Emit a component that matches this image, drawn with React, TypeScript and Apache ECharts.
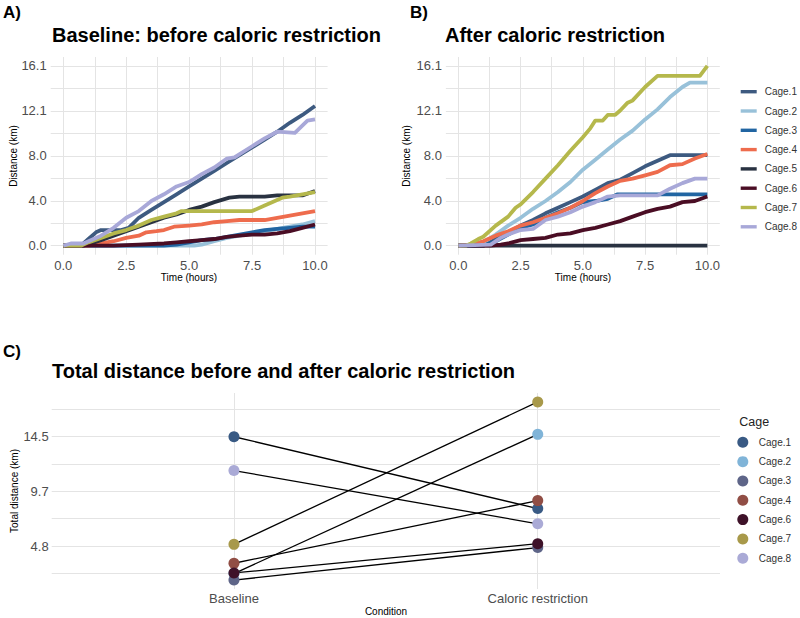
import React, { useEffect, useRef } from "react";
import * as echarts from "echarts";

const FONT = "'Liberation Sans', Arial, Helvetica, sans-serif";

const cageNames = ["Cage.1", "Cage.2", "Cage.3", "Cage.4", "Cage.5", "Cage.6", "Cage.7", "Cage.8"];
const lineColors = ["#3D5A80", "#98C1D9", "#2165A2", "#EE6C4D", "#293241", "#4A0D24", "#B5B84C", "#A8A8D8"];

// Panel A: baseline cumulative distance (hours, km)
const baseCage1 = [[0, 0], [0.7, 0], [1, 0.6], [1.3, 1.2], [1.5, 1.4], [2.3, 1.4], [2.6, 1.6], [3, 2.5], [3.5, 3.2], [4, 3.9], [4.5, 4.6], [5, 5.3], [5.5, 6.0], [6, 6.7], [6.5, 7.4], [7, 8.1], [7.5, 8.8], [8, 9.5], [8.5, 10.2], [9, 11.0], [9.5, 11.7], [10, 12.5]];
const baseCage2 = [[0, 0], [5.2, 0], [5.5, 0.1], [6, 0.4], [6.5, 0.7], [7, 0.9], [7.5, 1.1], [8, 1.3], [8.5, 1.5], [9, 1.7], [9.5, 1.9], [10, 2.2]];
const baseCage3 = [[0, 0], [4, 0], [4.5, 0.1], [5, 0.3], [5.5, 0.5], [6, 0.6], [6.5, 0.8], [7, 1.0], [7.5, 1.2], [8, 1.4], [8.5, 1.5], [9, 1.6], [9.5, 1.7], [10, 1.7]];
const baseCage4 = [[0, 0], [1, 0], [1.5, 0.2], [2, 0.4], [2.5, 0.7], [3, 0.9], [3.3, 1.2], [3.7, 1.3], [4, 1.4], [4.4, 1.7], [5, 1.8], [5.5, 1.9], [6, 2.1], [6.5, 2.2], [7, 2.3], [8, 2.3], [8.5, 2.5], [9, 2.7], [9.5, 2.9], [10, 3.1]];
const baseCage5 = [[0, 0], [0.8, 0], [1.5, 0.5], [2, 0.9], [2.5, 1.3], [3, 1.7], [3.5, 2.1], [4, 2.5], [4.5, 2.8], [5, 3.2], [5.5, 3.5], [6, 3.9], [6.6, 4.3], [7, 4.4], [8, 4.4], [8.5, 4.5], [9.5, 4.5], [10, 4.9]];
const baseCage6 = [[0, 0], [2, 0], [3, 0.1], [4, 0.2], [4.5, 0.3], [5, 0.4], [5.5, 0.5], [6, 0.6], [6.5, 0.8], [7, 0.9], [7.5, 1.0], [8, 1.0], [8.5, 1.1], [9, 1.3], [9.5, 1.6], [10, 1.9]];
const baseCage7 = [[0, 0], [0.7, 0], [1, 0.3], [1.5, 0.7], [2, 1.1], [2.5, 1.4], [3, 1.8], [3.5, 2.3], [4, 2.6], [4.5, 2.9], [4.7, 3.1], [7.5, 3.1], [8, 3.6], [8.7, 4.3], [9, 4.4], [9.5, 4.6], [10, 4.8]];
const baseCage8 = [[0, 0], [0.3, 0.2], [0.8, 0.2], [1.5, 0.9], [2, 1.6], [2.5, 2.5], [3, 3.1], [3.5, 4.0], [4, 4.6], [4.5, 5.3], [5, 5.7], [5.5, 6.4], [6, 7.0], [6.5, 7.8], [6.8, 7.9], [7.5, 8.9], [8, 9.6], [8.5, 10.2], [9.2, 10.1], [9.7, 11.2], [10, 11.3]];

// Panel B: after caloric restriction
const crCage1 = [[0, 0], [1, 0], [1.5, 0.6], [2, 1.2], [2.5, 1.8], [3, 2.3], [3.5, 2.9], [4, 3.4], [4.5, 3.9], [5, 4.4], [5.5, 5.0], [6, 5.6], [6.5, 5.9], [7, 6.5], [7.5, 7.1], [8, 7.6], [8.5, 8.1], [10, 8.1]];
const crCage2 = [[0, 0], [0.5, 0], [1, 0.3], [1.5, 1.0], [2, 1.8], [2.5, 2.5], [3, 3.3], [3.5, 4.0], [4, 4.8], [4.5, 5.7], [5, 6.8], [5.5, 7.7], [6, 8.6], [6.5, 9.5], [7, 10.3], [7.5, 11.3], [8, 12.2], [8.5, 13.3], [9, 14.2], [9.3, 14.6], [10, 14.6]];
const crCage3 = [[0, 0], [1, 0], [1.5, 0.4], [2, 1.0], [2.5, 1.6], [3, 1.9], [3.5, 2.5], [4, 3.0], [4.5, 3.4], [5, 3.9], [5.5, 4.0], [6, 4.2], [6.4, 4.6], [10, 4.6]];
const crCage4 = [[0, 0], [0.5, 0.1], [1, 0.4], [1.5, 0.9], [2, 1.3], [2.5, 1.8], [3, 2.1], [3.5, 2.5], [4, 2.9], [4.5, 3.4], [5, 4.0], [5.5, 4.7], [6, 5.3], [6.5, 5.8], [7, 6.0], [7.5, 6.3], [8, 6.6], [8.5, 7.2], [9, 7.3], [9.5, 7.8], [10, 8.2]];
const crCage5 = [[0, 0], [2, 0], [4, 0], [6, 0], [8, 0], [10, 0]];
const crCage6 = [[0, 0], [1.3, 0], [1.7, 0.1], [2, 0.2], [2.5, 0.5], [3, 0.6], [3.5, 0.7], [4, 1.0], [4.5, 1.1], [5, 1.4], [5.5, 1.6], [6, 1.9], [6.5, 2.2], [7, 2.6], [7.5, 3.0], [8, 3.3], [8.5, 3.5], [9, 3.9], [9.5, 4.0], [10, 4.4]];
const crCage7 = [[0, 0], [0.3, 0], [0.5, 0.2], [0.8, 0.6], [1, 0.8], [1.5, 1.8], [2, 2.6], [2.3, 3.4], [2.5, 3.7], [3, 4.8], [3.5, 6.0], [4, 7.2], [4.5, 8.5], [5, 9.7], [5.3, 10.5], [5.5, 11.2], [5.8, 11.2], [6, 11.7], [6.3, 11.7], [6.5, 12.1], [6.8, 12.8], [7, 13.0], [7.5, 14.2], [8, 15.2], [9.7, 15.2], [10, 16.1]];
const crCage8 = [[0, 0], [1.3, 0.1], [1.7, 0.7], [2, 1.0], [2.5, 1.4], [3, 1.5], [3.5, 2.3], [4, 2.6], [4.5, 3.0], [5, 3.5], [5.5, 3.9], [6, 4.4], [6.5, 4.5], [8, 4.5], [8.5, 5.1], [9, 5.6], [9.5, 6.0], [10, 6.0]];

const baselineCurves = [baseCage1, baseCage2, baseCage3, baseCage4, baseCage5, baseCage6, baseCage7, baseCage8];
const restrictionCurves = [crCage1, crCage2, crCage3, crCage4, crCage5, crCage6, crCage7, crCage8];

// Panels A/B axes
const timeTicks = [0, 1.25, 2.5, 3.75, 5, 6.25, 7.5, 8.75, 10];
const timeLabels = [0, 2.5, 5, 7.5, 10];
const distTicks = [0, 2.01, 4.02, 6.03, 8.04, 10.05, 12.06, 14.07, 16.08];
const distLabels = [0, 4.02, 8.04, 12.06, 16.08];

// Panel C: total distance
const totalCages = ["Cage.1", "Cage.2", "Cage.3", "Cage.4", "Cage.6", "Cage.7", "Cage.8"];
const totalColors = ["#395A84", "#80B4D8", "#5E6588", "#914E45", "#3E1229", "#A8994A", "#AAAAD6"];
const conditions = ["Baseline", "Caloric restriction"];
const totalBaseline = [14.5, 2.4, 1.82, 3.31, 2.45, 4.98, 11.51];
const totalRestriction = [8.15, 14.71, 4.7, 8.85, 5.04, 17.58, 6.8];
const totalTicks = [2.4167, 4.8333, 7.25, 9.6667, 12.0833, 14.5, 16.9167];
const totalLabels = [4.8333, 9.6667, 14.5];

const GRID_COLOR = "#E4E4E4";
const TICK_COLOR = "#4D4D4D";

function timeAxis(gridIndex: number) {
  return {
    type: "value",
    gridIndex,
    min: -0.5,
    max: 10.5,
    axisLine: { show: false },
    axisTick: { show: false, customValues: timeTicks },
    splitLine: { show: true, lineStyle: { color: GRID_COLOR, width: 1 } },
    axisLabel: {
      customValues: timeLabels,
      formatter: (v: number) => v.toFixed(1),
      color: TICK_COLOR,
      fontSize: 13,
      fontFamily: FONT,
      margin: 4,
    },
  };
}

function distAxis(gridIndex: number) {
  return {
    type: "value",
    gridIndex,
    min: -0.804,
    max: 16.884,
    axisLine: { show: false },
    axisTick: { show: false, customValues: distTicks },
    splitLine: { show: true, lineStyle: { color: GRID_COLOR, width: 1 } },
    axisLabel: {
      customValues: distLabels,
      formatter: (v: number) => v.toFixed(1),
      color: TICK_COLOR,
      fontSize: 13,
      fontFamily: FONT,
      margin: 4,
    },
  };
}

function txt(text: string, x: number, y: number, size: number, opts: any = {}) {
  return {
    type: "text",
    x,
    y,
    rotation: opts.rotation || 0,
    silent: true,
    style: {
      text,
      fill: opts.color || "#000",
      font: `${opts.bold ? "bold " : ""}${size}px ${FONT}`,
      align: opts.align || "left",
      verticalAlign: "middle",
    },
  };
}

export default function App() {
  const ref = useRef<HTMLDivElement>(null);

  useEffect(() => {
    if (!ref.current) return;
    const chart = echarts.init(ref.current, undefined, { renderer: "svg" });

    const series: any[] = [];
    baselineCurves.forEach((d, i) => {
      series.push({
        name: cageNames[i],
        type: "line",
        xAxisIndex: 0,
        yAxisIndex: 0,
        data: d,
        symbol: "none",
        showSymbol: false,
        silent: true,
        lineStyle: { width: 3.8, color: lineColors[i], join: "round" },
        itemStyle: { color: lineColors[i] },
        z: 2 + i * 0.01,
      });
    });
    restrictionCurves.forEach((d, i) => {
      series.push({
        name: cageNames[i],
        type: "line",
        xAxisIndex: 1,
        yAxisIndex: 1,
        data: d,
        symbol: "none",
        showSymbol: false,
        silent: true,
        lineStyle: { width: 3.8, color: lineColors[i], join: "round" },
        itemStyle: { color: lineColors[i] },
        z: 2 + i * 0.01,
      });
    });
    totalCages.forEach((name, i) => {
      series.push({
        name: name + "_link",
        type: "line",
        xAxisIndex: 2,
        yAxisIndex: 2,
        data: [[1, totalBaseline[i]], [2, totalRestriction[i]]],
        symbol: "none",
        showSymbol: false,
        silent: true,
        lineStyle: { width: 1.3, color: "#000" },
        z: 3,
      });
    });
    totalCages.forEach((name, i) => {
      series.push({
        name,
        type: "scatter",
        xAxisIndex: 2,
        yAxisIndex: 2,
        data: [[1, totalBaseline[i]], [2, totalRestriction[i]]],
        symbol: "circle",
        symbolSize: 11,
        silent: true,
        itemStyle: { color: totalColors[i], opacity: 1 },
        z: 4,
      });
    });

    const option: any = {
      animation: false,
      backgroundColor: "#ffffff",
      textStyle: { fontFamily: FONT },
      grid: [
        { left: 50.7, top: 57, width: 276.9, height: 197.7 },
        { left: 445.9, top: 57, width: 273.9, height: 197.7 },
        { left: 51.7, top: 393, width: 668.3, height: 196 },
      ],
      xAxis: [
        timeAxis(0),
        timeAxis(1),
        {
          type: "value",
          gridIndex: 2,
          min: 0.4,
          max: 2.6,
          axisLine: { show: false },
          axisTick: { show: false, customValues: [1, 2] },
          splitLine: { show: true, lineStyle: { color: GRID_COLOR, width: 1 } },
          axisLabel: {
            customValues: [1, 2],
            formatter: (v: number) => conditions[Math.round(v) - 1],
            color: TICK_COLOR,
            fontSize: 13,
            fontFamily: FONT,
            margin: 3,
          },
        },
      ],
      yAxis: [
        distAxis(0),
        distAxis(1),
        {
          type: "value",
          gridIndex: 2,
          min: 1.032,
          max: 18.37,
          axisLine: { show: false },
          axisTick: { show: false, customValues: totalTicks },
          splitLine: { show: true, lineStyle: { color: GRID_COLOR, width: 1 } },
          axisLabel: {
            customValues: totalLabels,
            formatter: (v: number) => v.toFixed(1),
            color: TICK_COLOR,
            fontSize: 13,
            fontFamily: FONT,
            margin: 3,
          },
        },
      ],
      legend: [
        {
          orient: "vertical",
          left: 740.7,
          top: 85.7,
          padding: 0,
          itemWidth: 16,
          itemHeight: 3.4,
          itemGap: 7.3,
          selectedMode: false,
          textStyle: { fontSize: 10, color: "#333", fontFamily: FONT, lineHeight: 12, padding: [0, 0, 0, 3] },
          data: cageNames.map((n, i) => ({ name: n, icon: "rect", itemStyle: { color: lineColors[i], borderWidth: 0 } })),
        },
        {
          orient: "vertical",
          left: 737.3,
          top: 436.8,
          padding: 0,
          itemWidth: 22,
          itemHeight: 11,
          itemGap: 8.33,
          selectedMode: false,
          textStyle: { fontSize: 10, color: "#333", fontFamily: FONT, lineHeight: 11 },
          data: totalCages.map((n, i) => ({ name: n, icon: "circle", itemStyle: { color: totalColors[i], borderWidth: 0 } })),
        },
      ],
      graphic: [
        txt("A)", 3, 12, 17, { bold: true }),
        txt("B)", 410, 12, 17, { bold: true }),
        txt("C)", 3, 351, 17, { bold: true }),
        txt("Baseline: before caloric restriction", 52, 35, 20, { bold: true }),
        txt("After caloric restriction", 445, 35, 20, { bold: true }),
        txt("Total distance before and after caloric restriction", 52, 370.5, 20, { bold: true }),
        txt("Distance (km)", 13, 156, 10, { align: "center", rotation: Math.PI / 2 }),
        txt("Distance (km)", 406, 156, 10, { align: "center", rotation: Math.PI / 2 }),
        txt("Time (hours)", 189, 277, 10, { align: "center" }),
        txt("Time (hours)", 583, 277, 10, { align: "center" }),
        txt("Total distance (km)", 14, 491, 10, { align: "center", rotation: Math.PI / 2 }),
        txt("Condition", 386, 611, 10, { align: "center" }),
        txt("Cage", 739.3, 421.7, 12.5, { color: "#222" }),
      ],
      series,
    };

    chart.setOption(option);
    return () => chart.dispose();
  }, []);

  return (
    <div
      ref={ref}
      style={{ position: "fixed", left: 0, top: 0, width: 800, height: 618, background: "#fff" }}
    />
  );
}
